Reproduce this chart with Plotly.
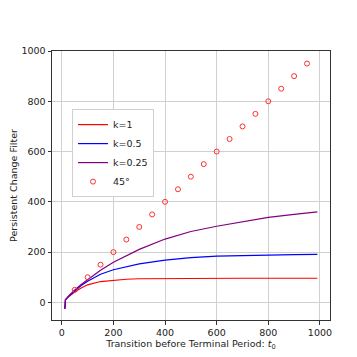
import plotly.graph_objects as go

t0 = [12, 14, 25, 50, 75, 100, 150, 200, 250, 300, 400, 500, 600, 700, 800, 900, 990]

filter_k1 = [-25, 10, 21, 41, 57, 70, 83, 89, 92, 94, 95, 95.5, 96, 96, 96, 96, 96]
filter_k05 = [-25, 10, 23, 47, 67, 84, 112, 130, 142, 153, 168, 178, 184, 187, 189, 190, 191]
filter_k025 = [-25, 10, 24, 50, 71, 90, 128, 160, 186, 211, 252, 282, 303, 320, 338, 350, 360]

# 45 degree reference points
ref_x = [50, 100, 150, 200, 250, 300, 350, 400, 450, 500,
         550, 600, 650, 700, 750, 800, 850, 900, 950]
ref_y = [50, 100, 150, 200, 250, 300, 350, 400, 450, 500,
         550, 600, 650, 700, 750, 800, 850, 900, 950]

font = dict(family='DejaVu Sans', size=9.5, color='#222222')

fig = go.Figure()

fig.add_trace(go.Scatter(x=t0, y=filter_k1, mode='lines', name='k=1',
                         line=dict(color='#ff0000', width=1.2)))
fig.add_trace(go.Scatter(x=t0, y=filter_k05, mode='lines', name='k=0.5',
                         line=dict(color='#0000ff', width=1.2)))
fig.add_trace(go.Scatter(x=t0, y=filter_k025, mode='lines', name='k=0.25',
                         line=dict(color='#800080', width=1.2)))
fig.add_trace(go.Scatter(x=ref_x, y=ref_y, mode='markers', name='45°',
                         marker=dict(symbol='circle-open', size=5,
                                     color='#ff3030', line=dict(width=1))))

axis_style = dict(
    automargin=False,
    showgrid=True,
    gridcolor='#d0d0d0',
    gridwidth=1,
    zeroline=False,
    showline=True,
    linecolor='#333333',
    linewidth=1,
    mirror=True,
    ticks='outside',
    ticklen=3.5,
    tickcolor='#333333',
    tickfont=font,
)

fig.update_xaxes(range=[-38, 1039], tickvals=[0, 200, 400, 600, 800, 1000],
                 title=dict(text='Transition before Terminal Period: <i>t</i><sub>0</sub>',
                            font=font, standoff=2),
                 **axis_style)
fig.update_yaxes(range=[-70, 1000], tickvals=[0, 200, 400, 600, 800, 1000],
                 title=dict(text='Persistent Change Filter', font=font, standoff=8),
                 **axis_style)

fig.update_layout(
    width=357,
    height=357,
    paper_bgcolor='white',
    plot_bgcolor='white',
    font=font,
    margin=dict(l=44, r=35, t=43, b=45),
    legend=dict(
        x=0.072,
        y=0.784,
        xanchor='left',
        yanchor='top',
        bgcolor='white',
        bordercolor='#d0d0d0',
        borderwidth=1,
        font=font,
        tracegroupgap=0,
        itemwidth=30,
    ),
)

fig.write_html("out.html")
